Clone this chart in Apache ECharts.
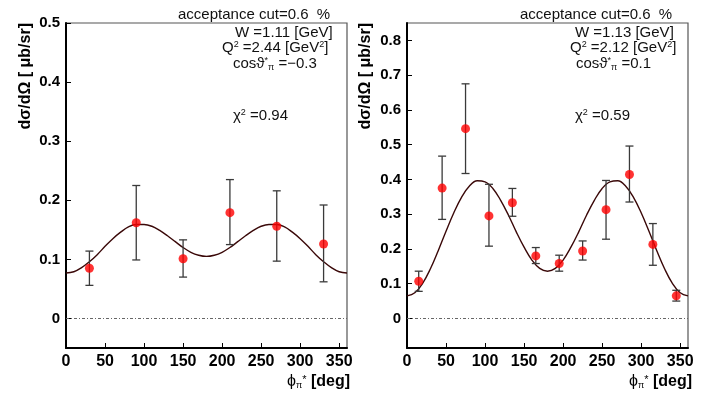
<!DOCTYPE html>
<html>
<head>
<meta charset="utf-8">
<script src="https://cdn.jsdelivr.net/npm/echarts@6/dist/echarts.min.js"></script>
<style>
html,body{margin:0;padding:0;background:#fff;}
#c{width:710px;height:394px;}
</style>
</head>
<body>
<div id="c"></div>
<script>
// ---- data ----
const xTicks = [0, 50, 100, 150, 200, 250, 300, 350];

// left panel: W=1.11, Q2=2.44, cos=-0.3
const phiL = [30, 90, 150, 210, 270, 330];
const valL = [0.085, 0.162, 0.101, 0.179, 0.156, 0.126];
const loL  = [0.056, 0.099, 0.070, 0.125, 0.097, 0.062];
const hiL  = [0.114, 0.225, 0.133, 0.235, 0.216, 0.192];

// right panel: W=1.13, Q2=2.12, cos=0.1
const phiR = [15, 45, 75, 105, 135, 165, 195, 225, 255, 285, 315, 345];
const valR = [0.107, 0.375, 0.546, 0.295, 0.333, 0.180, 0.158, 0.194, 0.313, 0.414, 0.213, 0.065];
const loR  = [0.078, 0.285, 0.417, 0.208, 0.294, 0.158, 0.136, 0.168, 0.228, 0.335, 0.153, 0.050];
const hiR  = [0.136, 0.467, 0.675, 0.386, 0.374, 0.204, 0.182, 0.223, 0.397, 0.496, 0.273, 0.081];

// fit curves read at every 10 degrees
const curvePhi = [0,10,20,30,40,50,60,70,80,90,100,110,120,130,140,150,160,170,180,
                  190,200,210,220,230,240,250,260,270,280,290,300,310,320,330,340,350,360];
const curveL = [0.077,0.079,0.086,0.096,0.108,0.122,0.135,0.146,0.155,0.159,0.159,0.156,0.149,0.140,0.130,0.120,0.112,0.107,0.105,
                0.107,0.112,0.120,0.130,0.140,0.149,0.156,0.159,0.159,0.155,0.146,0.135,0.122,0.108,0.096,0.086,0.079,0.077];
const curveR = [0.065,0.074,0.101,0.143,0.195,0.251,0.304,0.349,0.381,0.396,0.393,0.374,0.340,0.297,0.249,0.205,0.168,0.144,0.136,
                0.144,0.168,0.205,0.249,0.297,0.340,0.374,0.393,0.396,0.381,0.349,0.304,0.251,0.195,0.143,0.101,0.074,0.065];

const panelText = [
  {acc: 'acceptance cut=0.6  %', W: 'W =1.11 [GeV]', Q: '2.44', cos: '-0.3', chi: '0.94'},
  {acc: 'acceptance cut=0.6  %', W: 'W =1.13 [GeV]', Q: '2.12', cos: '0.1', chi: '0.59'}
];
const yTitle = 'dσ/dΩ [ μb/sr]';

// ---- chart ----
const chart = echarts.init(document.getElementById('c'));
const FONT = 'Liberation Sans, Arial, sans-serif';

function zip(a, b) { return a.map((v, i) => [v, b[i]]); }

function errSeries(idx, phi, lo, hi) {
  return {
    type: 'custom', xAxisIndex: idx, yAxisIndex: idx, z: 3,
    data: phi.map((p, i) => [p, lo[i], hi[i]]),
    renderItem: function (params, api) {
      const x = api.value(0);
      const pLo = api.coord([x, api.value(1)]);
      const pHi = api.coord([x, api.value(2)]);
      const w = 4;
      const st = {stroke: '#3a3a3a', lineWidth: 1.3};
      return {type: 'group', children: [
        {type: 'line', shape: {x1: pLo[0], y1: pLo[1], x2: pHi[0], y2: pHi[1]}, style: st},
        {type: 'line', shape: {x1: pLo[0]-w, y1: pLo[1], x2: pLo[0]+w, y2: pLo[1]}, style: st},
        {type: 'line', shape: {x1: pHi[0]-w, y1: pHi[1], x2: pHi[0]+w, y2: pHi[1]}, style: st}
      ]};
    }
  };
}

function xAxis(idx) {
  return {
    type: 'value', gridIndex: idx, min: 0, max: 360, interval: 50,
    axisLine: {onZero: false, lineStyle: {color: '#000', width: 2}},
    axisTick: {inside: true, length: 5, lineStyle: {color: '#000', width: 1}},
    axisLabel: {showMaxLabel: false, color: '#000', fontWeight: 'bold', fontSize: 16,
                fontFamily: FONT, margin: 6},
    splitLine: {show: false}
  };
}
function yAxis(idx, min, max, split, showMax) {
  return {
    type: 'value', gridIndex: idx, min: min, max: max, splitNumber: split,
    minInterval: 0.1, maxInterval: 0.1,
    axisLine: {show: true, onZero: false, lineStyle: {color: '#000', width: 2}},
    axisTick: {show: true, inside: true, length: 5, lineStyle: {color: '#000', width: 1}},
    axisLabel: {showMinLabel: false, showMaxLabel: showMax, color: '#000', fontWeight: 'bold', fontSize: 15, fontFamily: FONT, margin: 6,
                formatter: v => (Math.abs(v) < 1e-9 ? '0' : String(Math.round(v * 10) / 10))},
    splitLine: {show: false}
  };
}

const rich = {
  b: {fontSize: 15, fontFamily: FONT, color: '#111'},
  sup: {fontSize: 9, fontFamily: FONT, color: '#111', verticalAlign: 'top'},
  sub: {fontSize: 9, fontFamily: FONT, color: '#111', verticalAlign: 'bottom'}
};

function txt(x, y, text, extra) {
  return {
    type: 'text', x: x, y: y, z: 10,
    style: Object.assign({text: text, fontSize: 15, fontFamily: FONT, fill: '#111',
                          textAlign: 'left', align: 'left', textVerticalAlign: 'middle', verticalAlign: 'middle'}, extra || {})
  };
}

const gridL = {left: 66, top: 23, width: 281, height: 325};
const gridR = {left: 407, top: 23, width: 281, height: 325};
const grids = [gridL, gridR];
const textPos = [
  {acc: 178, W: 235, Q: 222, cos: 233, chi: 233, yt: 26, xt: 287},
  {acc: 520, W: 575, Q: 570, cos: 576, chi: 575, yt: 366, xt: 629}
];

const graphics = [];
panelText.forEach((t, i) => {
  const p = textPos[i];
  graphics.push(txt(p.acc, 15, t.acc));
  graphics.push(txt(p.W, 33, t.W));
  graphics.push(txt(p.Q, 48, '{b|Q}{sup|2}{b| =' + t.Q + ' [GeV}{sup|2}{b|]}', {rich: rich, lineHeight: 16}));
  graphics.push(txt(p.cos, 64, '{b|cosϑ}{sup|*}{sub|π}{b| =' + t.cos.replace('-', '−') + '}', {rich: rich, lineHeight: 16}));
  graphics.push(txt(p.chi, 116, '{b|χ}{sup|2}{b| =' + t.chi + '}', {rich: rich, lineHeight: 16}));
  // y title (rotated)
  graphics.push({
    type: 'text', x: p.yt, y: 23, rotation: Math.PI / 2, z: 10,
    style: {text: yTitle, fontSize: 16, fontWeight: 'bold', fontFamily: FONT, fill: '#000',
            textAlign: 'right', align: 'right', textVerticalAlign: 'middle', verticalAlign: 'middle'}
  });
  // x title
  graphics.push({
    type: 'text', x: p.xt, y: 382, z: 10,
    style: {text: '{n|ϕ}{sub|π}{sup|*}{bb| [deg]}', fontFamily: FONT, fill: '#000',
            textAlign: 'left', align: 'left', textVerticalAlign: 'middle', verticalAlign: 'middle',
            rich: {
              n: {fontSize: 16, fontFamily: FONT, color: '#222'},
              sub: {fontSize: 9, fontFamily: FONT, color: '#222', verticalAlign: 'bottom'},
              sup: {fontSize: 11, fontFamily: FONT, color: '#222', verticalAlign: 'top'},
              bb: {fontSize: 16, fontWeight: 'bold', fontFamily: FONT, color: '#000'}
            }}
  });
});

const option = {
  animation: false,
  backgroundColor: '#fff',
  grid: grids.map(g => Object.assign({show: true, borderColor: '#555', borderWidth: 1.2, backgroundColor: 'transparent'}, g)),
  xAxis: [xAxis(0), xAxis(1)],
  yAxis: [yAxis(0, -0.05, 0.5, 6, true), yAxis(1, -0.085, 0.85, 9, false)],
  graphic: graphics,
  series: [
    {type: 'line', xAxisIndex: 0, yAxisIndex: 0, data: zip(curvePhi, curveL), smooth: 0.4, showSymbol: false,
     lineStyle: {color: '#3a0808', width: 1.4}, z: 2,
     markLine: {silent: true, symbol: 'none', label: {show: false},
                lineStyle: {color: '#666', type: [3, 2, 1, 2], width: 1}, data: [{yAxis: 0}]}},
    errSeries(0, phiL, loL, hiL),
    {type: 'scatter', xAxisIndex: 0, yAxisIndex: 0, data: zip(phiL, valL), symbolSize: 9,
     itemStyle: {color: '#ff0000'}, z: 4},
    {type: 'line', xAxisIndex: 1, yAxisIndex: 1, data: zip(curvePhi, curveR), smooth: 0.4, showSymbol: false,
     lineStyle: {color: '#3a0808', width: 1.4}, z: 2,
     markLine: {silent: true, symbol: 'none', label: {show: false},
                lineStyle: {color: '#666', type: [3, 2, 1, 2], width: 1}, data: [{yAxis: 0}]}},
    errSeries(1, phiR, loR, hiR),
    {type: 'scatter', xAxisIndex: 1, yAxisIndex: 1, data: zip(phiR, valR), symbolSize: 9,
     itemStyle: {color: '#ff0000'}, z: 4}
  ]
};
chart.setOption(option);
</script>
</body>
</html>
